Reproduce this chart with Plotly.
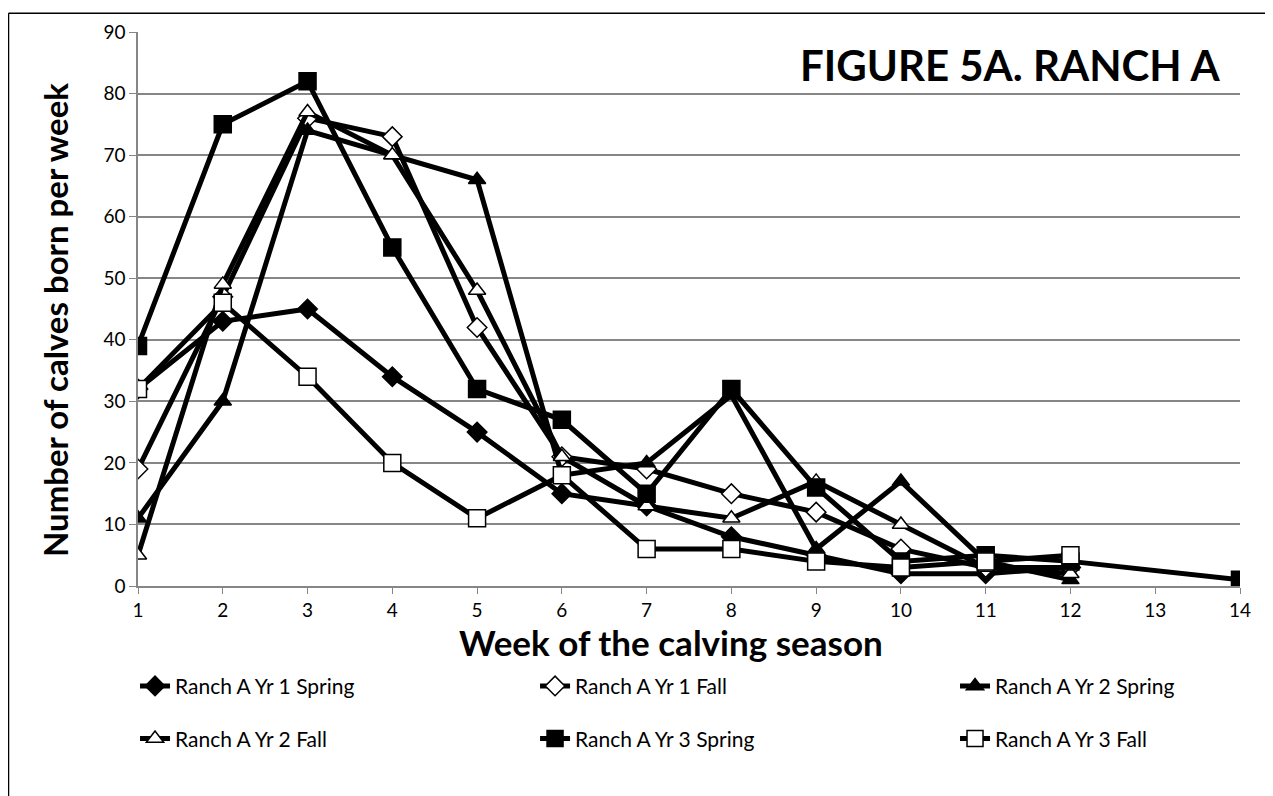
import plotly.graph_objects as go

weeks = list(range(1, 15))
series_names = ["Ranch A Yr 1 Spring", "Ranch A Yr 1 Fall", "Ranch A Yr 2 Spring",
                "Ranch A Yr 2 Fall", "Ranch A Yr 3 Spring", "Ranch A Yr 3 Fall"]

yr1_spring = [32, 43, 45, 34, 25, 15, 13, 8, 5, 2, 2, 3, None, None]
yr1_fall   = [19, 47, 76, 73, 42, 21, 19, 15, 12, 6, 3, 3, None, None]
yr2_spring = [11, 30, 74, 70, 66, 18, 20, 31, 6, 17, 4, 1, None, None]
yr2_fall   = [5, 49, 77, 70, 48, 21, 13, 11, 17, 10, 3, 2, None, None]
yr3_spring = [39, 75, 82, 55, 32, 27, 15, 32, 16, 4, 5, 4, None, 1]
yr3_fall   = [32, 46, 34, 20, 11, 18, 6, 6, 4, 3, 4, 5, None, None]

y_ticks = list(range(0, 91, 10))

FONT = "Lato"
styles = [
    dict(symbol="diamond", color="black", size=15),
    dict(symbol="diamond", color="white", size=15),
    dict(symbol="triangle-up", color="black", size=15),
    dict(symbol="triangle-up", color="white", size=15),
    dict(symbol="square", color="black", size=17),
    dict(symbol="square", color="white", size=17),
]
data = [yr1_spring, yr1_fall, yr2_spring, yr2_fall, yr3_spring, yr3_fall]

# legend grid placement (3 columns x 2 rows)
leg_x = [-0.0027, 0.3603, 0.7414, -0.0027, 0.3603, 0.7414]
leg_y = [-0.181, -0.181, -0.181, -0.276, -0.276, -0.276]

fig = go.Figure()
for i, (name, vals, st) in enumerate(zip(series_names, data, styles)):
    fig.add_trace(go.Scatter(
        x=weeks, y=vals, name=name, mode="lines+markers",
        connectgaps=True,
        legend="legend" if i == 0 else f"legend{i+1}",
        line=dict(color="black", width=5),
        marker=dict(symbol=st["symbol"], color=st["color"], size=st["size"],
                    line=dict(color="black", width=1.5)),
    ))

legends = {}
for i in range(6):
    key = "legend" if i == 0 else f"legend{i+1}"
    legends[key] = dict(x=leg_x[i], y=leg_y[i], xanchor="left", yanchor="middle",
                        orientation="v", bgcolor="rgba(0,0,0,0)",
                        font=dict(size=21, family=FONT, color="black"))

fig.update_layout(
    width=1265, height=788,
    margin=dict(l=130, r=33, t=20, b=210),
    paper_bgcolor="white", plot_bgcolor="white",
    font=dict(family=FONT, color="black"),
    showlegend=True,
    xaxis=dict(range=[1, 14], tickmode="array", tickvals=weeks,
               ticktext=[str(w) for w in weeks],
               showgrid=False, showline=True, linecolor="#868686", linewidth=1.5,
               ticks="outside", ticklen=6, tickcolor="#868686", zeroline=False,
               tickfont=dict(size=19, family=FONT)),
    yaxis=dict(range=[0, 90], tickmode="array", tickvals=y_ticks,
               showgrid=True, gridcolor="#868686", gridwidth=1.5,
               showline=True, linecolor="#868686", linewidth=1.5,
               ticks="outside", ticklen=7, tickcolor="#868686", zeroline=False,
               tickfont=dict(size=19, family=FONT)),
    annotations=[
        dict(text="<b>FIGURE 5A. RANCH A</b>", xref="paper", yref="paper",
             x=0.791, y=0.941, xanchor="center", yanchor="middle", showarrow=False,
             font=dict(size=42, family=FONT)),
        dict(text="<b>Week of the calving season</b>", xref="paper", yref="paper",
             x=0.4837, y=-0.1004, xanchor="center", yanchor="middle", showarrow=False,
             font=dict(size=35, family=FONT)),
        dict(text="<b>Number of calves born per week</b>", xref="paper", yref="paper",
             x=-0.0753, y=0.480, xanchor="center", yanchor="middle", showarrow=False,
             textangle=-90, font=dict(size=33, family=FONT)),
    ],
    shapes=[
        dict(type="line", xref="paper", yref="paper", x0=-0.1175, x1=1.05, y0=1.034, y1=1.034,
             line=dict(color="black", width=1.5)),
        dict(type="line", xref="paper", yref="paper", x0=-0.1175, x1=-0.1175, y0=1.034, y1=-0.4,
             line=dict(color="black", width=1.5)),
    ],
    **legends,
)

fig.write_html("out.html")
